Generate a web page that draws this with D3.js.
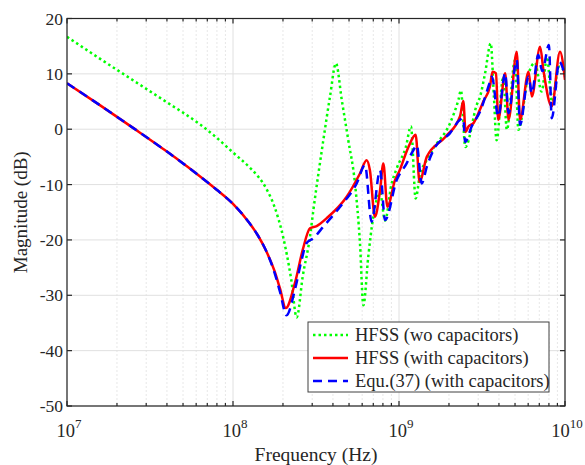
<!DOCTYPE html>
<meta charset="utf-8">
<html>
<head>
<title>Magnitude vs Frequency</title>
<style>
  body { margin: 0; background: #fff; }
  svg text { font-family: "Liberation Serif", "Times New Roman", serif; fill: #262626; }
</style>
</head>
<body>
<script src="https://d3js.org/d3.v7.min.js"></script>
<svg width="585" height="465"></svg>
<script>

    // [frequency (Hz), magnitude (dB)]
    var hfssWo = [
        [1.0e7, 16.7], [1.585e7, 12.7], [2.512e7, 8.8], [3.981e7, 4.9], [6.31e7, 0.9],
        [7.943e7, -1.5], [1.0e8, -4.2], [1.259e8, -6.9], [1.413e8, -8.5], [1.585e8, -10.7],
        [1.778e8, -14.0], [1.995e8, -19.2], [2.239e8, -27.0], [2.42e8, -34.0],
        [2.63e8, -26.6], [2.91e8, -19.4], [3.05e8, -14.6], [3.50e8, -2.0], [3.84e8, 5.9],
        [4.17e8, 11.9], [4.52e8, 5.3], [4.95e8, -2.0], [5.43e8, -9.8], [5.82e8, -20.6],
        [6.10e8, -31.8], [6.53e8, -23.0], [7.00e8, -15.8], [7.69e8, -11.5], [8.24e8, -16.5],
        [9.0e8, -10.0], [9.68e8, -7.1], [1.10e9, -3.2], [1.18e9, 0.5], [1.26e9, -12.5],
        [1.34e9, -8.0], [1.43e9, -6.2], [1.61e9, -3.5], [2.03e9, 1.1], [2.28e9, 5.3],
        [2.36e9, 7.0], [2.51e9, -3.2], [2.94e9, 4.4], [3.08e9, 5.9], [3.30e9, 10.1],
        [3.57e9, 15.5], [3.73e9, 5.9], [3.87e9, -2.0], [4.25e9, 9.5], [4.46e9, -0.1],
        [5.0e9, 12.5], [5.24e9, -0.1], [6.03e9, 10.0], [6.6e9, 12.0], [7.23e9, 6.8],
        [7.8e9, 13.0], [8.32e9, 5.0], [9.2e9, 11.3], [1.0e10, 10.4]
    ];

    var hfssWith = [
        [1.0e7, 8.3], [1.585e7, 4.3], [2.512e7, 0.2], [3.981e7, -4.0], [6.31e7, -8.5],
        [7.943e7, -10.9], [1.0e8, -13.5], [1.259e8, -17.0], [1.413e8, -19.2], [1.585e8, -22.0],
        [1.778e8, -25.6], [1.92e8, -28.8], [2.08e8, -32.3],
        [2.36e8, -27.8], [2.63e8, -21.8], [2.91e8, -17.9], [3.19e8, -17.5], [3.66e8, -16.1],
        [4.84e8, -12.2], [5.82e8, -8.0], [6.38e8, -5.6], [6.68e8, -7.4], [7.16e8, -15.8],
        [7.69e8, -11.0], [8.05e8, -6.2], [8.51e8, -14.0], [9.46e8, -9.2], [1.01e9, -7.4],
        [1.14e9, -3.2], [1.26e9, -1.0], [1.33e9, -9.5], [1.47e9, -5.0], [1.90e9, -1.4],
        [2.33e9, 2.3], [2.44e9, 5.1], [2.52e9, -0.5], [2.62e9, 0.5], [2.81e9, 1.1],
        [3.08e9, 3.6], [3.22e9, 5.0], [3.53e9, 7.7], [3.66e9, 10.4], [3.84e9, 10.1],
        [3.96e9, 1.7], [4.36e9, 10.1], [4.57e9, 1.7], [5.12e9, 14.0], [5.36e9, 1.7],
        [6.03e9, 10.4], [6.31e9, 5.9], [7.08e9, 14.9], [7.41e9, 10.7], [8.32e9, 4.1],
        [9.33e9, 14.0], [1.0e10, 8.9]
    ];

    var equ37 = [
        [1.0e7, 8.3], [1.585e7, 4.3], [2.512e7, 0.2], [3.981e7, -4.0], [6.31e7, -8.5],
        [7.943e7, -10.9], [1.0e8, -13.5], [1.259e8, -17.0], [1.413e8, -19.2], [1.585e8, -22.0],
        [1.778e8, -25.9], [1.92e8, -29.4], [2.10e8, -33.6],
        [2.36e8, -29.0], [2.59e8, -23.6], [2.77e8, -20.6], [3.05e8, -19.7], [3.50e8, -17.6],
        [4.42e8, -14.0], [5.56e8, -9.8], [6.24e8, -6.5], [6.84e8, -16.7], [7.69e8, -7.4],
        [8.24e8, -16.4], [9.68e8, -9.2], [1.11e9, -6.2], [1.22e9, -3.8], [1.28e9, -2.9],
        [1.37e9, -9.8], [1.47e9, -6.8], [1.61e9, -3.8], [2.03e9, -0.7], [2.33e9, 1.7],
        [2.44e9, 2.0], [2.50e9, -2.3], [2.74e9, 0.5], [3.08e9, 3.2], [3.53e9, 8.5],
        [3.63e9, 9.5], [3.96e9, 2.3], [4.36e9, 10.1], [4.57e9, 2.9], [5.12e9, 12.5],
        [5.36e9, 0.8], [6.03e9, 9.5], [6.31e9, 6.5], [6.9e9, 13.4], [7.3e9, 10.5],
        [8.0e9, 15.2], [8.32e9, 2.0], [9.25e9, 12.2], [1.0e10, 9.5]
    ];

    var yTicks = [-50, -40, -30, -20, -10, 0, 10, 20];
    var xDecades = [7, 8, 9, 10];
    var legendLabels = ["HFSS (wo capacitors)", "HFSS (with capacitors)", "Equ.(37) (with capacitors)"];

    var svg = d3.select("svg"),
        pLeft = 67, pRight = 565, pTop = 18.5, pBottom = 406;

    var x = d3.scaleLog().domain([1e7, 1e10]).range([pLeft, pRight]);
    var y = d3.scaleLinear().domain([-50, 20]).range([pBottom, pTop]);

    var minor = [];
    xDecades.slice(0, -1).forEach(function(e) {
        for (var m = 2; m <= 9; m++) minor.push(m * Math.pow(10, e));
    });
    var major = xDecades.map(function(e) { return Math.pow(10, e); });

    // grid
    var grid = svg.append("g");
    grid.selectAll(null).data(minor).enter().append("line")
        .attr("x1", x).attr("x2", x).attr("y1", pTop).attr("y2", pBottom)
        .attr("stroke", "#cfcfcf").attr("stroke-width", 1).attr("stroke-dasharray", "1,3");
    grid.selectAll(null).data(major).enter().append("line")
        .attr("x1", x).attr("x2", x).attr("y1", pTop).attr("y2", pBottom)
        .attr("stroke", "#e0e0e0").attr("stroke-width", 1);
    grid.selectAll(null).data(yTicks).enter().append("line")
        .attr("x1", pLeft).attr("x2", pRight).attr("y1", y).attr("y2", y)
        .attr("stroke", "#e0e0e0").attr("stroke-width", 1);

    // curves
    svg.append("clipPath").attr("id", "clip").append("rect")
        .attr("x", pLeft).attr("y", pTop).attr("width", pRight - pLeft).attr("height", pBottom - pTop);

    var line = d3.line()
        .x(function(d) { return x(d[0]); })
        .y(function(d) { return y(d[1]); })
        .curve(d3.curveMonotoneX);

    var plot = svg.append("g").attr("clip-path", "url(#clip)");
    plot.append("path").datum(hfssWo).attr("d", line)
        .attr("fill", "none").attr("stroke", "#00ff00").attr("stroke-width", 2.5)
        .attr("stroke-dasharray", "2.5,3");
    plot.append("path").datum(hfssWith).attr("d", line)
        .attr("fill", "none").attr("stroke", "#ff0000").attr("stroke-width", 2.5);
    plot.append("path").datum(equ37).attr("d", line)
        .attr("fill", "none").attr("stroke", "#0000ff").attr("stroke-width", 2.5)
        .attr("stroke-dasharray", "9,6");

    // axes box and ticks
    var ax = svg.append("g").attr("stroke", "#262626").attr("stroke-width", 1.2);
    ax.append("rect").attr("x", pLeft).attr("y", pTop).attr("width", pRight - pLeft).attr("height", pBottom - pTop)
        .attr("fill", "none");
    [pBottom, pTop].forEach(function(yy) {
        var dir = yy == pBottom ? -1 : 1;
        ax.selectAll(null).data(major).enter().append("line")
            .attr("x1", x).attr("x2", x).attr("y1", yy).attr("y2", yy + dir * 5);
        ax.selectAll(null).data(minor).enter().append("line")
            .attr("x1", x).attr("x2", x).attr("y1", yy).attr("y2", yy + dir * 3);
    });
    [pLeft, pRight].forEach(function(xx) {
        var dir = xx == pLeft ? 1 : -1;
        ax.selectAll(null).data(yTicks).enter().append("line")
            .attr("x1", xx).attr("x2", xx + dir * 5).attr("y1", y).attr("y2", y);
    });

    svg.selectAll(null).data(yTicks).enter().append("text")
        .attr("x", pLeft - 4).attr("y", function(d) { return y(d) + 6; })
        .attr("text-anchor", "end").attr("font-size", 17.5)
        .text(function(d) { return d; });

    var xl = svg.selectAll(null).data(xDecades).enter().append("text")
        .attr("x", function(d) { return x(Math.pow(10, d)) + 2; }).attr("y", 437)
        .attr("text-anchor", "middle").attr("font-size", 18.5);
    xl.append("tspan").text("10");
    xl.append("tspan").attr("dy", -9).attr("font-size", 13).text(function(d) { return d; });

    svg.append("text").attr("x", (pLeft + pRight) / 2).attr("y", 461)
        .attr("text-anchor", "middle").attr("font-size", 19.5).text("Frequency (Hz)");
    svg.append("text").attr("transform", "translate(27," + (pTop + pBottom) / 2 + ") rotate(-90)")
        .attr("text-anchor", "middle").attr("font-size", 19).text("Magnitude (dB)");

    // legend
    var lg = svg.append("g");
    lg.append("rect").attr("x", 308).attr("y", 322).attr("width", 241).attr("height", 70)
        .attr("fill", "#fff").attr("stroke", "#404040").attr("stroke-width", 1);
    var styles = [
        { color: "#00ff00", dash: "2.5,3" },
        { color: "#ff0000", dash: null },
        { color: "#0000ff", dash: "9,6" }
    ];
    legendLabels.forEach(function(t, i) {
        var cy = 335 + i * 23;
        lg.append("line").attr("x1", 313).attr("x2", 348).attr("y1", cy).attr("y2", cy)
            .attr("stroke", styles[i].color).attr("stroke-width", 2.5)
            .attr("stroke-dasharray", styles[i].dash);
        lg.append("text").attr("x", 355).attr("y", cy + 6).attr("font-size", 18.5).text(t);
    });

</script>
</body>
</html>
